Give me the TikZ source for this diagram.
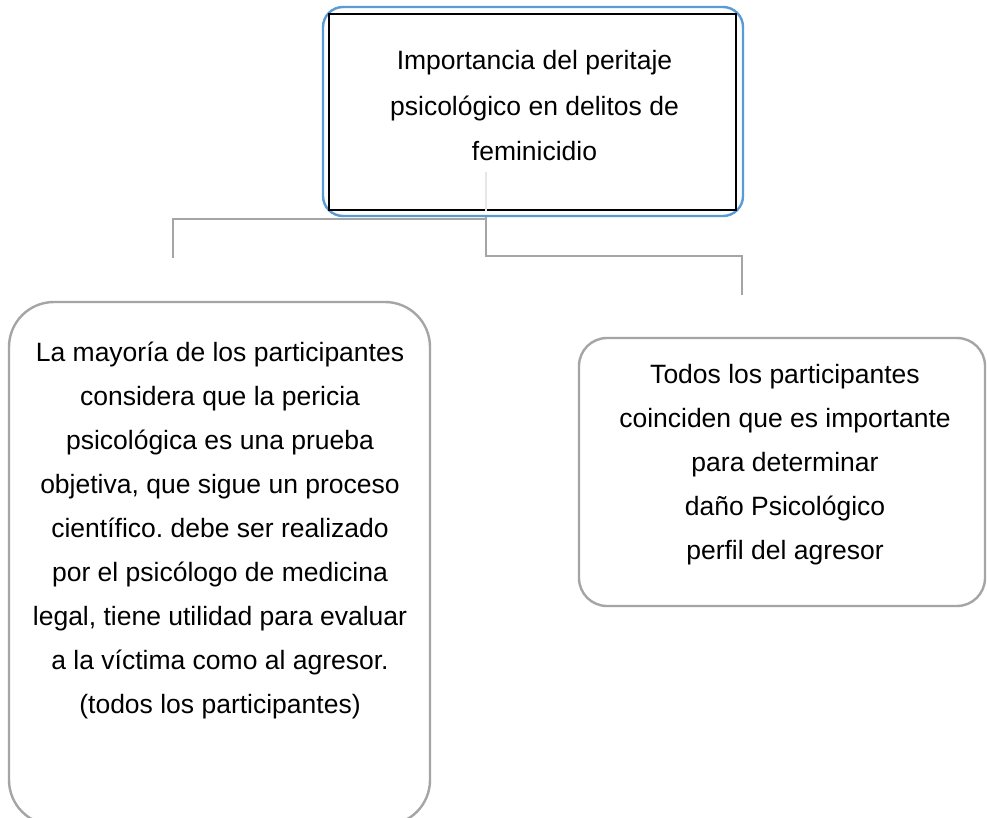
\documentclass[tikz,border=0pt]{standalone}
\usepackage{fontspec}
\setmainfont{Liberation Sans}
\frenchspacing
\definecolor{boxblue}{HTML}{5B9BD5}
\definecolor{linegray}{HTML}{A5A5A5}
\definecolor{faintgray}{HTML}{E6E6E6}
\begin{document}
\begin{tikzpicture}[x=1pt,y=-1pt,
  outerbox/.style={draw=boxblue, line width=2.4pt, rounded corners=20pt, inner sep=0pt,
    minimum width=420pt, minimum height=209pt},
  innerbox/.style={draw=black, line width=2pt, inner sep=0pt,
    minimum width=407pt, minimum height=196pt},
  childbox/.style={draw=linegray, line width=2.4pt, inner sep=0pt},
  conn/.style={draw=linegray, line width=2.6pt},
  faint/.style={draw=faintgray, line width=2pt},
  txt/.style={align=center, inner sep=0pt, text=black},
  toptxt/.style={txt, font=\fontsize{26.5}{45.5}\selectfont},
  bodytxt/.style={txt, font=\fontsize{26.5}{44}\selectfont}]
\useasboundingbox (0,0) rectangle (987,818);
\clip (0,0) rectangle (987,818);
\fill[white] (0,0) rectangle (987,818);

% top box
\node[outerbox] (topouter) at (533,111.5) {};
\node[innerbox] (topinner) at (532.5,112) {};
\node[toptxt] (toptext) at (534.5,106) {Importancia del peritaje\\psicológico en delitos de\\feminicidio};

% child boxes
\node[childbox, rounded corners=45pt, minimum width=421pt, minimum height=523pt] (leftbox) at (219.5,563.5) {};
\node[bodytxt] (lefttext) at (220,530) {La mayoría de los participantes\\considera que la pericia\\psicológica es una prueba\\objetiva, que sigue un proceso\\científico. debe ser realizado\\por el psicólogo de medicina\\legal, tiene utilidad para evaluar\\a la víctima como al agresor.\\(todos los participantes)};

\node[childbox, rounded corners=28pt, minimum width=406pt, minimum height=268pt] (rightbox) at (782,472) {};
\node[bodytxt] (righttext) at (785,465) {Todos los participantes\\coinciden que es importante\\para determinar\\daño Psicológico\\perfil del agresor};

% connectors
\coordinate (hub) at (486,219);
\coordinate (ftop) at (486,172);
\coordinate (lend) at (173,258);
\coordinate (rend) at (742,295);
\draw[faint] (ftop) -- (ftop |- topinner.south);
\draw[conn] (topouter.south -| hub) -- (hub) -| (lend);
\draw[conn] (hub) -- ++(0,37) -| (rend);
\end{tikzpicture}
\end{document}
